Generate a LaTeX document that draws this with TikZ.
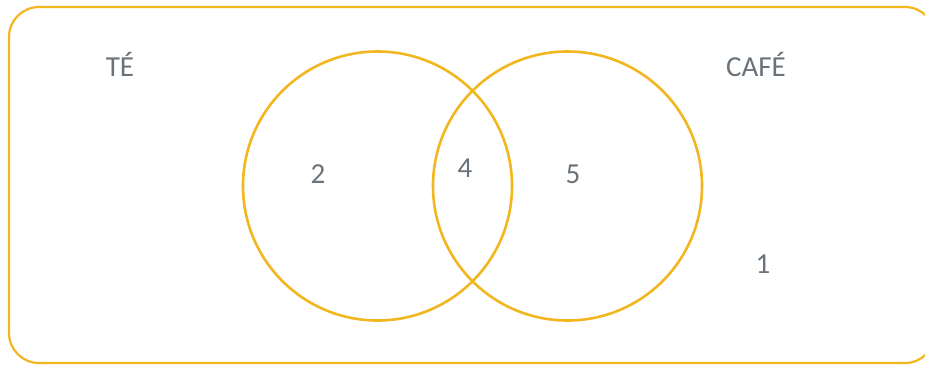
\documentclass[tikz,border=0pt]{standalone}
\usepackage{fontspec}
\setmainfont{Carlito}
\usepackage{xcolor}
\usetikzlibrary{positioning}
\definecolor{VennGold}{HTML}{F2B61E}
\definecolor{LabelGray}{HTML}{6A727A}
\tikzset{
  frame/.style={rounded corners=30pt, draw=VennGold, line width=2.2pt},
  setcircle/.style={circle, draw=VennGold, line width=2.6pt, minimum size=269pt, inner sep=0pt},
  label/.style={text=LabelGray, font=\fontsize{29}{34}\selectfont, inner sep=0pt}
}

\begin{document}
\begin{tikzpicture}[x=1pt, y=-1pt]
    \useasboundingbox (0,0) rectangle (925,365);
    \draw[frame] (9,7) rectangle (935,363);

    \node[setcircle] (setTe) at (377.5,186) {};
    \node[setcircle] (setCafe) at (567.5,186) {};

    \node[label] (te) at (120,64) {TÉ};
    \node[label] (cafe) at (756,64) {CAFÉ};
    \node[label] (onlyTe) at (318,174) {2};
    \node[label] (both) at (465,168) {4};
    \node[label] (onlyCafe) at (573,174) {5};
    \node[label] (neither) at (763,264) {1};
  \end{tikzpicture}
\end{document}
